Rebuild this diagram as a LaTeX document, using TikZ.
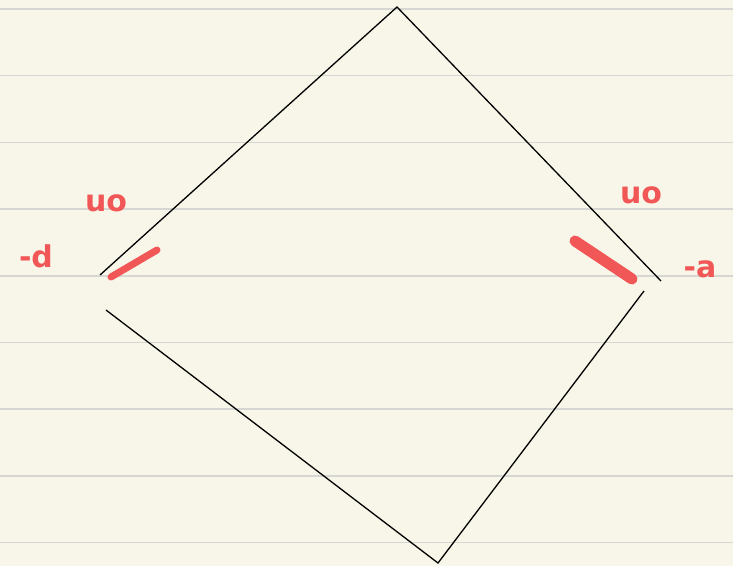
\documentclass[tikz,border=0pt]{standalone}
\usepackage{fontspec}
\setsansfont{DejaVu Sans}
\usepackage{tikz}
\usetikzlibrary{positioning}
\definecolor{paper}{HTML}{F7F6E8}
\definecolor{ruleline}{HTML}{D6D6D2}
\definecolor{inkred}{HTML}{F25757}

\begin{document}
\begin{tikzpicture}[
    x=1pt, y=-1pt,
    edge/.style={draw=black, line width=1.3pt},
    scrawl/.style={draw=inkred, line width=8pt, line cap=round},
    note/.style={text=inkred, font=\sffamily\bfseries\fontsize{30}{32}\selectfont, inner sep=0pt},
]
    % paper and ruling
    \fill[paper] (0,0) rectangle (733,566);
    \useasboundingbox (0,0) rectangle (733,566);
    \foreach \y in {9,75.7,142.4,209.1,275.8,342.5,409.2,475.9,542.6}
        \draw[ruleline, line width=1.5pt] (0,\y) -- (733,\y);

    % corners of the square
    \coordinate (upL) at (100,275);
    \coordinate (apex) at (397,7);
    \coordinate (upR) at (661,281);
    \coordinate (lowL) at (106,310);
    \coordinate (base) at (438,563);
    \coordinate (lowR) at (644,291);

    \draw[edge] (upL) -- (apex) -- (upR);
    \draw[edge] (lowL) -- (base) -- (lowR);

    % red marks
    \coordinate (markLa) at (111,277);
    \coordinate (markLb) at (157,250);
    \coordinate (markRa) at (575,241);
    \coordinate (markRb) at (632,279);
    \draw[scrawl, line width=7pt] (markLa) -- (markLb);
    \draw[scrawl, line width=11pt] (markRa) -- (markRb);

    \node[note] (uL) at (106,203) {uo};
    \node[note] (dL) at (36,256) {-d};
    \node[note] (uR) at (641,195) {uo};
    \node[note] (dR) at (700,269) {-a};
\end{tikzpicture}
\end{document}
